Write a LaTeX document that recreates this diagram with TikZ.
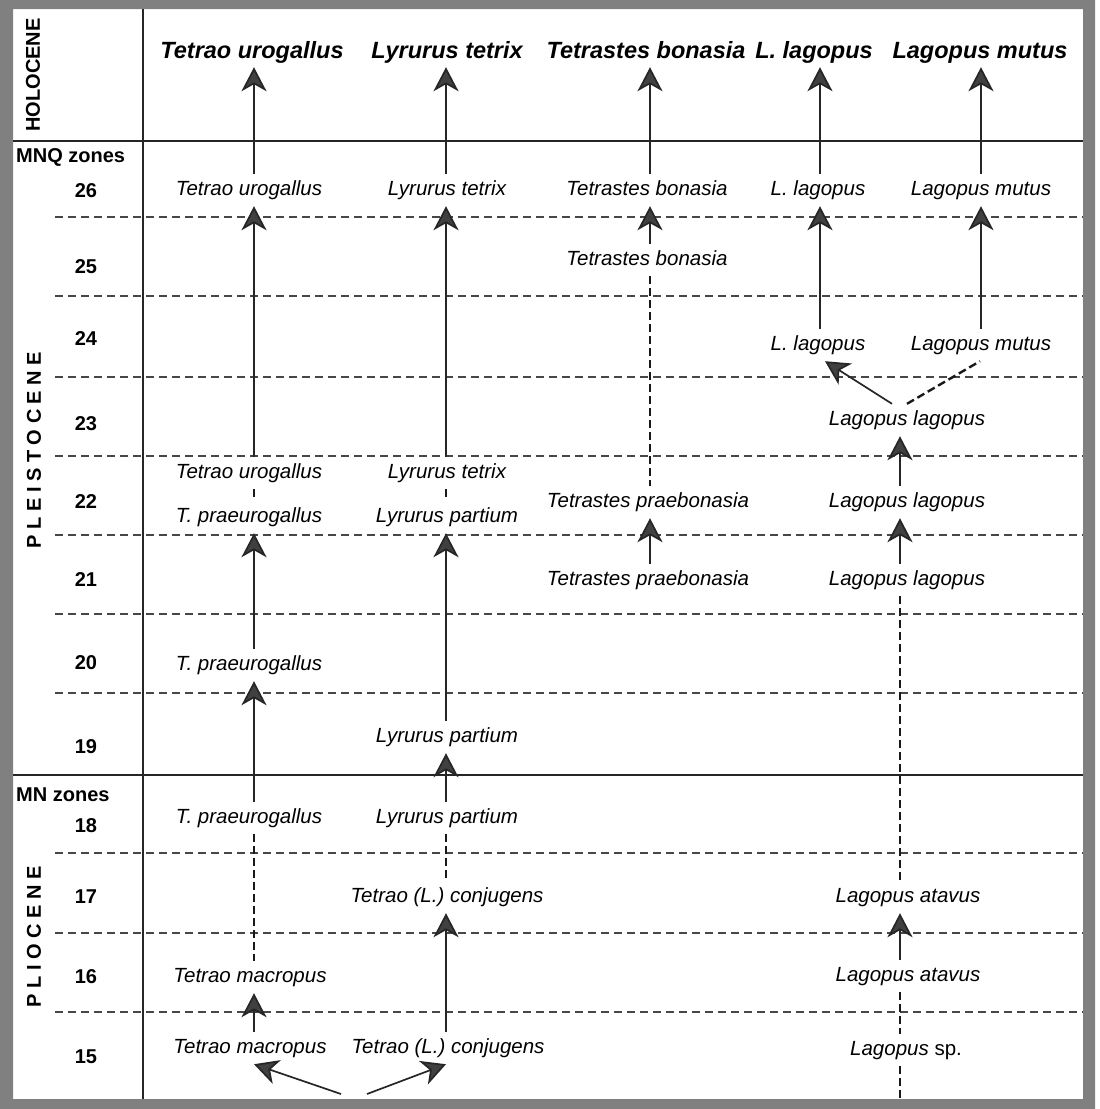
\documentclass[tikz,border=0pt]{standalone}
\usepackage{fontspec}
\setmainfont{Liberation Sans}
\usetikzlibrary{arrows.meta}
\newcommand\lsp{\hspace{5.5pt}}
\begin{document}
\begin{tikzpicture}[x=1pt,y=-1pt,
  lab/.style={font=\fontsize{20.5}{24}\selectfont\itshape, text height=14pt, text depth=4pt, inner xsep=0pt, inner ysep=7pt},
  hdr/.style={font=\fontsize{23.5}{28}\selectfont\bfseries\itshape, text height=17pt, text depth=5pt, inner xsep=0pt, inner ysep=4pt},
  zone/.style={font=\fontsize{20}{24}\selectfont\bfseries, inner sep=0pt},
  epoch/.style={font=\fontsize{20}{24}\selectfont\bfseries, rotate=90, inner sep=0pt},
  arr/.style={line width=1.7pt, draw=black!85, -{Stealth[length=24pt,width=25pt,inset=7pt,fill=black!75]}},
  vdash/.style={line width=2.4pt, draw=black!90, dash pattern=on 8pt off 4pt},
  hdash/.style={line width=1.3pt, draw=black!72, dash pattern=on 8pt off 5pt},
  rule/.style={line width=1.5pt, draw=black!85}
]
\useasboundingbox (0,0) rectangle (1100,1109);
% frame
\fill[black!50, even odd rule] (0,0) rectangle (1095,1109) (13,9) rectangle (1083,1099);
% column coordinates
\coordinate (colA) at (254,0);
\coordinate (colB) at (446,0);
\coordinate (colC) at (650,0);
\coordinate (colD) at (820,0);
\coordinate (colE) at (981,0);
\coordinate (colF) at (900,0);
% zone dashed lines
\foreach \yy in {217,296,377,456,535,614,693,853,933,1012}
  \draw[hdash] (55,\yy) -- (1083,\yy);
% solid rules
\draw[rule] (143,9) -- (143,1099);
\draw[rule] (13,141) -- (1083,141);
\draw[rule] (13,775) -- (1083,775);
% epoch labels
\node[epoch] (holo) at (33,75) {HOLOCENE};
\node[epoch] (pleis) at (34,450) {P\lsp L\lsp E\lsp I\lsp S\lsp T\lsp O\lsp C\lsp E\lsp N\lsp E};
\node[epoch] (plio) at (34,937) {P\lsp L\lsp I\lsp O\lsp C\lsp E\lsp N\lsp E};
\node[zone, anchor=west] (mnq) at (16,157) {MNQ zones};
\node[zone, anchor=west] (mn) at (16,795) {MN zones};
% zone numbers
\node[zone] (z26) at (86,191) {26};
\node[zone] (z25) at (86,267) {25};
\node[zone] (z24) at (86,339) {24};
\node[zone] (z23) at (86,424) {23};
\node[zone] (z22) at (86,502) {22};
\node[zone] (z21) at (86,580) {21};
\node[zone] (z20) at (86,663) {20};
\node[zone] (z19) at (86,747) {19};
\node[zone] (z18) at (86,826) {18};
\node[zone] (z17) at (86,897) {17};
\node[zone] (z16) at (86,977) {16};
\node[zone] (z15) at (86,1057) {15};
% headers
\node[hdr] (hA) at (252,52) {Tetrao urogallus};
\node[hdr] (hB) at (447,52) {Lyrurus tetrix};
\node[hdr] (hC) at (646,52) {Tetrastes bonasia};
\node[hdr] (hD) at (814,52) {L. lagopus};
\node[hdr] (hE) at (980,52) {Lagopus mutus};
% row 26
\node[lab] (r26a) at (249,190) {Tetrao urogallus};
\node[lab] (r26b) at (447,190) {Lyrurus tetrix};
\node[lab] (r26c) at (647,190) {Tetrastes bonasia};
\node[lab] (r26d) at (818,190) {L. lagopus};
\node[lab] (r26e) at (981,190) {Lagopus mutus};
% row 25
\node[lab] (r25c) at (647,260) {Tetrastes bonasia};
% row 24
\node[lab] (r24d) at (818,345) {L. lagopus};
\node[lab] (r24e) at (981,345) {Lagopus mutus};
% row 23
\node[lab] (r23f) at (907,420) {Lagopus lagopus};
% row 22
\node[lab] (r22a) at (249,473) {Tetrao urogallus};
\node[lab] (r22b) at (249,517) {T. praeurogallus};
\node[lab] (r22c) at (447,473) {Lyrurus tetrix};
\node[lab] (r22d) at (447,517) {Lyrurus partium};
\node[lab] (r22e) at (648,502) {Tetrastes praebonasia};
\node[lab] (r22f) at (907,502) {Lagopus lagopus};
% row 21
\node[lab] (r21e) at (648,580) {Tetrastes praebonasia};
\node[lab] (r21f) at (907,580) {Lagopus lagopus};
% row 20
\node[lab] (r20a) at (249,665) {T. praeurogallus};
% row 19
\node[lab] (r19b) at (447,737) {Lyrurus partium};
% row 18
\node[lab] (r18a) at (249,818) {T. praeurogallus};
\node[lab] (r18b) at (447,818) {Lyrurus partium};
% row 17
\node[lab] (r17b) at (447,897) {Tetrao (L.) conjugens};
\node[lab] (r17f) at (908,897) {Lagopus atavus};
% row 16
\node[lab] (r16a) at (250,977) {Tetrao macropus};
\node[lab] (r16f) at (908,976) {Lagopus atavus};
% row 15
\node[lab] (r15a) at (250,1048) {Tetrao macropus};
\node[lab] (r15b) at (448,1048) {Tetrao (L.) conjugens};
\node[lab] (r15f) at (906,1050) {Lagopus \upshape sp.};
\coordinate (oL) at (341,1094);
\coordinate (oR) at (367,1094);
\coordinate (bottomF) at (900,1099);
% Tetrao column
\draw[arr] (r26a.north -| colA) -- (hA.south -| colA);
\draw[arr] (r22a.north -| colA) -- (r26a.south -| colA);
\draw[vdash] (r22a.south -| colA) -- (r22b.north -| colA);
\draw[arr] (r20a.north -| colA) -- (r22b.south -| colA);
\draw[arr] (r18a.north -| colA) -- (r20a.south -| colA);
\draw[vdash] (r18a.south -| colA) -- (r16a.north -| colA);
\draw[arr] (r15a.north -| colA) -- (r16a.south -| colA);
\draw[arr] (oL) -- (r15a.south -| colA);
% Lyrurus column
\draw[arr] (r26b.north -| colB) -- (hB.south -| colB);
\draw[arr] (r22c.north -| colB) -- (r26b.south -| colB);
\draw[vdash] (r22c.south -| colB) -- (r22d.north -| colB);
\draw[arr] (r19b.north -| colB) -- (r22d.south -| colB);
\draw[arr] (r18b.north -| colB) -- (r19b.south -| colB);
\draw[vdash] (r18b.south -| colB) -- (r17b.north -| colB);
\draw[arr] (r15b.north -| colB) -- (r17b.south -| colB);
\draw[arr] (oR) -- (r15b.south -| colB);
% Tetrastes column
\draw[arr] (r26c.north -| colC) -- (hC.south -| colC);
\draw[arr] (r25c.north -| colC) -- (r26c.south -| colC);
\draw[vdash] (r25c.south -| colC) -- (r22e.north -| colC);
\draw[arr] (r21e.north -| colC) -- (r22e.south -| colC);
% L. lagopus column
\draw[arr] (r26d.north -| colD) -- (hD.south -| colD);
\draw[arr] (r24d.north -| colD) -- (r26d.south -| colD);
% Lagopus mutus column
\draw[arr] (r26e.north -| colE) -- (hE.south -| colE);
\draw[arr] (r24e.north -| colE) -- (r26e.south -| colE);
% split at zone 23
\draw[arr] ([xshift=-15pt]r23f.north) -- ([xshift=7pt]r24d.south);
\draw[vdash] (r23f.north) -- ([xshift=-1pt]r24e.south);
% Lagopus lagopus column
\draw[arr] (r22f.north -| colF) -- (r23f.south -| colF);
\draw[arr] (r21f.north -| colF) -- (r22f.south -| colF);
\draw[vdash] (r21f.south -| colF) -- (r17f.north -| colF);
\draw[arr] (r16f.north -| colF) -- (r17f.south -| colF);
\draw[vdash] (r16f.south -| colF) -- (r15f.north -| colF);
\draw[vdash] (r15f.south -| colF) -- (bottomF);
\end{tikzpicture}
\end{document}
